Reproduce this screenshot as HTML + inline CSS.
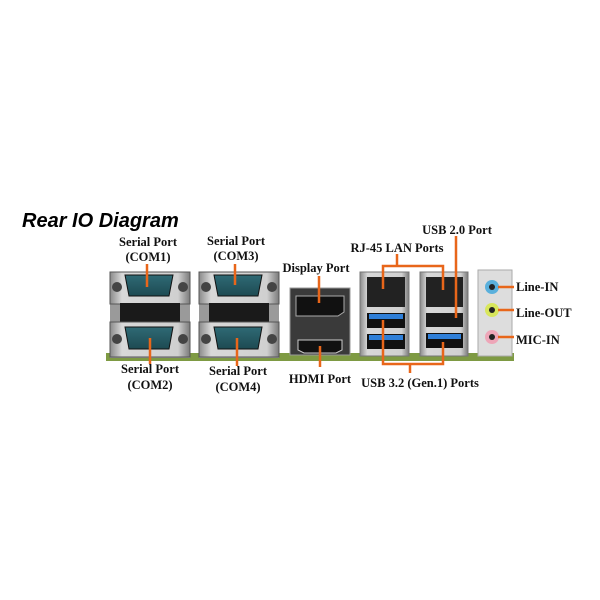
<!DOCTYPE html>
<html><head><meta charset="utf-8"><style>
body{margin:0;background:#fff;}
svg{display:block}
.l{font-family:"Liberation Serif",serif;font-weight:bold;font-size:12.5px;fill:#111}
</style></head><body>
<svg width="600" height="600" viewBox="0 0 600 600" xmlns="http://www.w3.org/2000/svg">
<defs>
<linearGradient id="met" x1="0" y1="0" x2="1" y2="0"><stop offset="0" stop-color="#8a8a8a"/><stop offset=".15" stop-color="#d8d8d8"/><stop offset=".85" stop-color="#d0d0d0"/><stop offset="1" stop-color="#7a7a7a"/></linearGradient>
<linearGradient id="teal" x1="0" y1="0" x2="0" y2="1"><stop offset="0" stop-color="#2f6a75"/><stop offset="1" stop-color="#1d4a52"/></linearGradient>
</defs>
<text x="22" y="227" font-family="Liberation Sans,sans-serif" font-weight="bold" font-style="italic" font-size="20" fill="#000">Rear IO Diagram</text>
<!-- board strip -->
<rect x="106" y="353" width="408" height="8" fill="#7e9a43"/>
<!-- serial blocks -->
<g>
<rect x="110" y="272" width="80" height="86" fill="#9a9a9a"/>
<rect x="110" y="272" width="80" height="32" fill="url(#met)" stroke="#555"/>
<rect x="120" y="303" width="60" height="20" fill="#1a1a1a"/>
<rect x="110" y="322" width="80" height="35" fill="url(#met)" stroke="#555"/>
<circle cx="117" cy="287" r="5" fill="#444"/><circle cx="183" cy="287" r="5" fill="#444"/>
<circle cx="117" cy="339" r="5" fill="#444"/><circle cx="183" cy="339" r="5" fill="#444"/>
<path d="M125 275 H173 L169 296 H129 Z" fill="url(#teal)" stroke="#111"/>
<path d="M125 327 H173 L169 349 H129 Z" fill="url(#teal)" stroke="#111"/>
</g>
<g transform="translate(89,0)">
<rect x="110" y="272" width="80" height="86" fill="#9a9a9a"/>
<rect x="110" y="272" width="80" height="32" fill="url(#met)" stroke="#555"/>
<rect x="120" y="303" width="60" height="20" fill="#1a1a1a"/>
<rect x="110" y="322" width="80" height="35" fill="url(#met)" stroke="#555"/>
<circle cx="117" cy="287" r="5" fill="#444"/><circle cx="183" cy="287" r="5" fill="#444"/>
<circle cx="117" cy="339" r="5" fill="#444"/><circle cx="183" cy="339" r="5" fill="#444"/>
<path d="M125 275 H173 L169 296 H129 Z" fill="url(#teal)" stroke="#111"/>
<path d="M125 327 H173 L169 349 H129 Z" fill="url(#teal)" stroke="#111"/>
</g>
<!-- DP/HDMI -->
<rect x="290" y="288" width="60" height="67" fill="#3a3a3a" stroke="#999"/>
<path d="M296 296 H344 V312 L338 316 H296 Z" fill="#111" stroke="#aaa"/>
<path d="M298 340 H342 V350 L336 353 H304 L298 350 Z" fill="#111" stroke="#ccc"/>
<!-- LAN/USB blocks -->
<rect x="360" y="272" width="49" height="84" fill="url(#met)" stroke="#777"/>
<rect x="367" y="277" width="38" height="30" fill="#222"/>
<rect x="367" y="313" width="38" height="15" fill="#111"/><rect x="369" y="314" width="34" height="5" fill="#2f7fd8"/>
<rect x="367" y="334" width="38" height="15" fill="#111"/><rect x="369" y="335" width="34" height="5" fill="#2f7fd8"/>
<rect x="420" y="272" width="48" height="84" fill="url(#met)" stroke="#777"/>
<rect x="426" y="277" width="37" height="30" fill="#222"/>
<rect x="426" y="313" width="37" height="14" fill="#1a1a1a"/>
<rect x="426" y="333" width="37" height="15" fill="#111"/><rect x="428" y="334" width="33" height="5" fill="#2f7fd8"/>
<!-- audio -->
<rect x="478" y="270" width="34" height="86" fill="#ddd" stroke="#aaa"/>
<circle cx="492" cy="287" r="7" fill="#5ab0dc"/><circle cx="492" cy="287" r="3" fill="#222"/>
<circle cx="492" cy="310" r="7" fill="#d8e65c"/><circle cx="492" cy="310" r="3" fill="#222"/>
<circle cx="492" cy="337" r="7" fill="#eea6b8"/><circle cx="492" cy="337" r="3" fill="#222"/>
<!-- orange leaders -->
<g stroke="#e8661a" stroke-width="2.5" fill="none">
<path d="M147 264 V287"/><path d="M235 264 V285"/><path d="M319 276 V303"/>
<path d="M150 338 V364"/><path d="M237 338 V366"/><path d="M320 346 V367"/>
<path d="M383 289 V266 H443 V290"/><path d="M397 266 V254"/>
<path d="M456 236 V318"/>
<path d="M383 320 V364 H443 V342"/><path d="M410 364 V373"/>
<path d="M498 287 H514"/><path d="M498 310 H514"/><path d="M498 337 H514"/>
</g>
<g class="l" text-anchor="middle">
<text x="148" y="246">Serial Port</text><text x="148" y="261">(COM1)</text>
<text x="236" y="245">Serial Port</text><text x="236" y="260">(COM3)</text>
<text x="316" y="272">Display Port</text>
<text x="150" y="373">Serial Port</text><text x="150" y="389">(COM2)</text>
<text x="238" y="375">Serial Port</text><text x="238" y="391">(COM4)</text>
<text x="320" y="383">HDMI Port</text>
<text x="457" y="234">USB 2.0 Port</text>
<text x="397" y="252">RJ-45 LAN Ports</text>
<text x="420" y="387">USB 3.2 (Gen.1) Ports</text>
</g>
<g class="l">
<text x="516" y="291">Line-IN</text><text x="516" y="317">Line-OUT</text><text x="516" y="344">MIC-IN</text>
</g>
</svg>
</body></html>
